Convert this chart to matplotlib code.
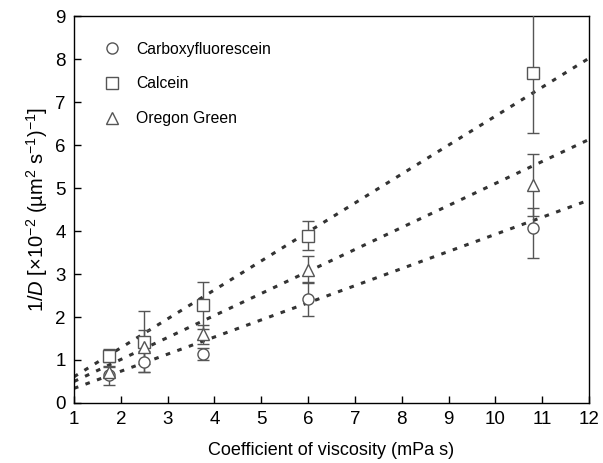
import numpy as np
import matplotlib
matplotlib.use('Agg')
import matplotlib.pyplot as plt

plt.rcParams['font.family'] = ['Liberation Sans', 'DejaVu Sans']
plt.rcParams['mathtext.fontset'] = 'custom'
plt.rcParams['mathtext.rm'] = 'Liberation Sans'
plt.rcParams['mathtext.it'] = 'Liberation Sans:italic'

# %% data
viscosity = [1.75, 2.5, 3.75, 6.0, 10.8]

carboxy = [0.65, 0.96, 1.14, 2.43, 4.07]
carboxy_lo = [0.22, 0.24, 0.14, 0.41, 0.70]
carboxy_hi = [0.20, 0.24, 0.14, 0.39, 0.46]

calcein = [1.10, 1.43, 2.27, 3.88, 7.67]
calcein_lo = [0.15, 0.70, 0.55, 0.33, 1.38]
calcein_hi = [0.15, 0.70, 0.55, 0.35, 1.45]

oregon = [0.72, 1.30, 1.60, 3.10, 5.07]
oregon_lo = [0.12, 0.40, 0.22, 0.30, 0.72]
oregon_hi = [0.12, 0.40, 0.22, 0.33, 0.72]

# fitted lines, values at x = 1 and x = 12
fit_x = [1, 12]
carboxy_fit = [0.34, 4.72]
calcein_fit = [0.61, 8.02]
oregon_fit = [0.50, 6.13]

# %% plot
fig = plt.figure(figsize=(6.03, 4.63), dpi=100)
ax = fig.add_axes([0.1227, 0.1296, 0.8543, 0.8358])

grey = '#555555'
series = [
    ('Carboxyfluorescein', 'o', carboxy, carboxy_lo, carboxy_hi, carboxy_fit),
    ('Calcein', 's', calcein, calcein_lo, calcein_hi, calcein_fit),
    ('Oregon Green', '^', oregon, oregon_lo, oregon_hi, oregon_fit),
]

for name, mk, y, lo, hi, fit in series:
    ax.plot(fit_x, fit, color='#333333', linestyle=(0, (1.5, 2.5)), linewidth=2.2, zorder=1)
for name, mk, y, lo, hi, fit in series:
    ax.errorbar(viscosity, y, yerr=[lo, hi], fmt=mk, color=grey, ecolor=grey,
                mfc='white', mec=grey, ms=8, mew=1.0, elinewidth=1.0,
                capsize=4.5, capthick=1.0, label=name, zorder=3)

ax.set_xlim(1, 12)
ax.set_ylim(0, 9)
ax.set_xticks(range(1, 13))
ax.set_yticks(range(0, 10))
ax.tick_params(direction='in', length=5, width=1.0, labelsize=13.5, pad=6)
for s in ax.spines.values():
    s.set_linewidth(1.0)

ax.set_xlabel('Coefficient of viscosity (mPa s)', fontsize=13, labelpad=10)
ax.set_ylabel('1/$D$ [$\\times$10$^{-2}$ (\u00b5m$^{2}$ s$^{-1}$)$^{-1}$]', fontsize=14.5, labelpad=4)

handles = [plt.Line2D([], [], marker=mk, linestyle='none', mfc='white', mec=grey, ms=8, mew=1.0)
           for _, mk, *_ in series]
ax.legend(handles, [s[0] for s in series], loc='upper left', frameon=False,
          fontsize=11.3, labelspacing=1.25, handletextpad=0.55, borderaxespad=1.0,
          bbox_to_anchor=(0.0, 0.99))

fig.savefig('out.png', dpi=100)
